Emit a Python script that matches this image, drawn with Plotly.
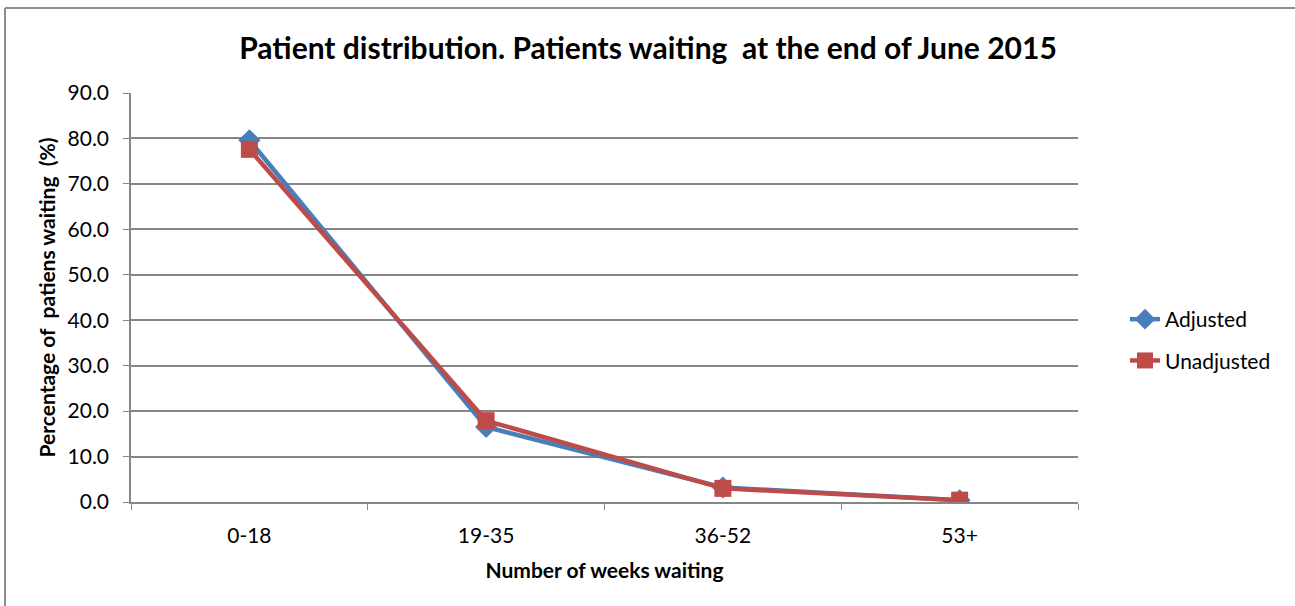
import plotly.graph_objects as go

categories = ["0-18", "19-35", "36-52", "53+"]
adjusted = [79.6, 16.5, 3.2, 0.4]
unadjusted = [77.6, 17.9, 3.0, 0.4]
y_ticks = [0, 10, 20, 30, 40, 50, 60, 70, 80, 90]

W, H = 1295, 606
L, R, T, B = 131, 217, 93, 104
pw, ph = W - L - R, H - T - B

def px_x(x):
    return (x - L) / pw

def px_y(y):
    return (H - B - y) / ph

FONT = "Lato"
fig = go.Figure()
fig.add_trace(go.Scatter(
    x=categories, y=adjusted, name="Adjusted", mode="lines+markers", legendgroup="a",
    line=dict(color="#4A7EBB", width=4.5),
    marker=dict(symbol="diamond", size=17, color="#4A7EBB"),
))
fig.add_trace(go.Scatter(
    x=categories, y=unadjusted, name="Unadjusted", mode="lines+markers", legendgroup="b",
    line=dict(color="#BE4B48", width=4.5),
    marker=dict(symbol="square", size=17, color="#BE4B48"),
))

NB = "\u00a0"
fig.update_layout(
    width=W, height=H,
    margin=dict(l=L, r=R, t=T, b=B, autoexpand=False),
    paper_bgcolor="white", plot_bgcolor="white",
    font=dict(family=FONT, size=21, color="#000000"),
    title=dict(text="<b>Patient distribution. Patients waiting" + NB + " at the end of June 2015</b>",
               x=px_x(648), xref="paper", xanchor="center", y=1 - 48 / H, yanchor="middle",
               font=dict(size=30, family=FONT)),
    showlegend=True,
    legend=dict(x=px_x(1125), y=px_y(299), xanchor="left", yanchor="top",
                font=dict(size=21, family=FONT), tracegroupgap=11,
                bgcolor="rgba(0,0,0,0)"),
    xaxis=dict(
        type="category", range=[-0.5, 3.5], showgrid=False, showline=True,
        linecolor="#868686", linewidth=1.5,
        ticks="outside", tickson="boundaries", ticklen=6, tickcolor="#868686",
        tickfont=dict(size=21), ticklabelstandoff=14,
        title=dict(text="<b>Number of weeks waiting</b>", font=dict(size=21), standoff=17),
    ),
    yaxis=dict(
        range=[0, 90], tickvals=y_ticks, tickformat=".1f",
        showgrid=True, gridcolor="#868686", gridwidth=1.5,
        showline=True, linecolor="#868686", linewidth=1.5,
        ticks="outside", ticklen=6, tickcolor="#868686", zeroline=False,
        tickfont=dict(size=21), ticklabelstandoff=10,
        title=dict(text="<b>Percentage of" + NB + " patiens waiting" + NB + " (%)</b>",
                   font=dict(size=21), standoff=6),
    ),
    shapes=[
        dict(type="line", xref="paper", yref="paper", x0=px_x(5), x1=px_x(1300), y0=px_y(8), y1=px_y(8),
             line=dict(color="#8c8c8c", width=2)),
        dict(type="line", xref="paper", yref="paper", x0=px_x(5), x1=px_x(5), y0=px_y(8), y1=px_y(610),
             line=dict(color="#8c8c8c", width=2)),
    ],
)

fig.write_html("out.html", config={"displayModeBar": False},
               post_script="document.body.style.margin='0';document.body.style.overflow='hidden';")
